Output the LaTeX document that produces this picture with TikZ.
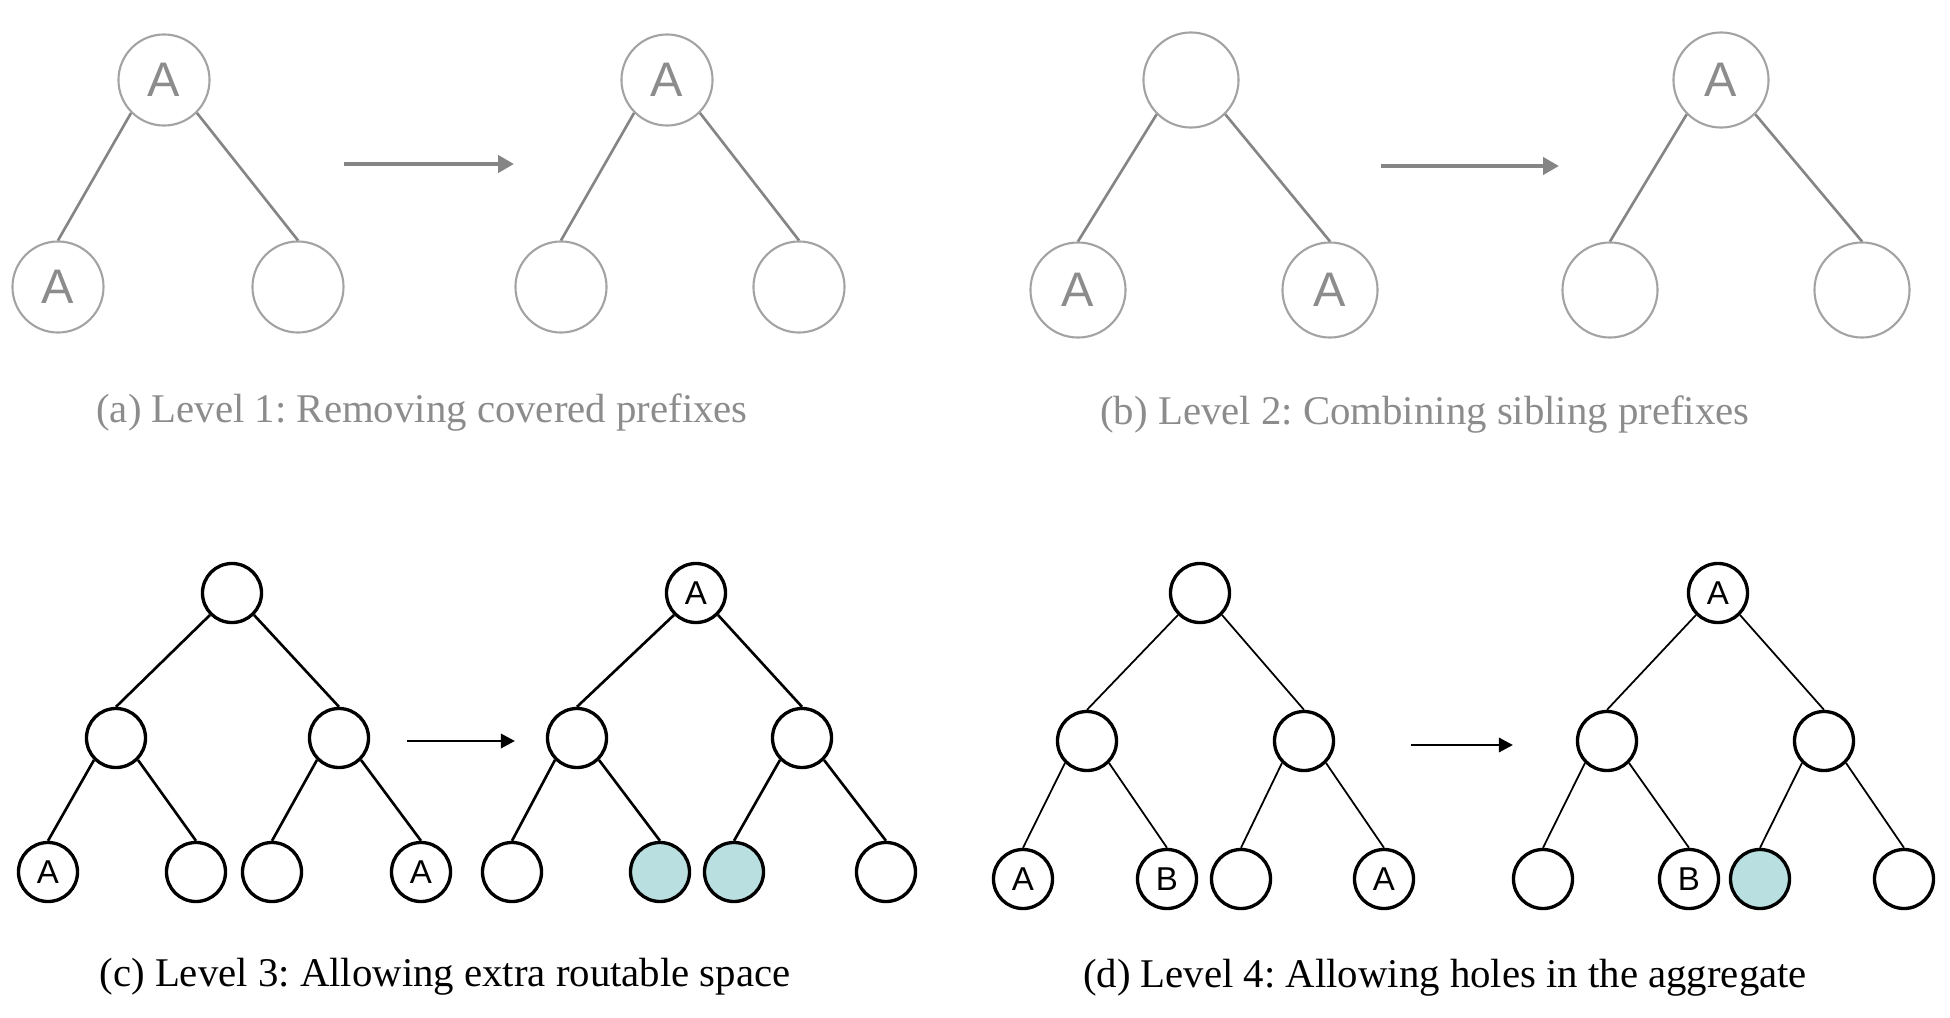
\documentclass[tikz,border=0pt]{standalone}
\usepackage{fontspec}
\setmainfont{Liberation Serif}
\setsansfont{Liberation Sans}
\usetikzlibrary{arrows.meta}
\definecolor{LineGray}{HTML}{858585}
\definecolor{RingGray}{HTML}{A3A3A3}
\definecolor{TextGray}{HTML}{8C8C8C}
\definecolor{HoleTeal}{HTML}{B9DFE1}
\frenchspacing

\tikzset{
  bignode/.style={circle, draw=RingGray, line width=0.6pt, minimum size=0.91cm, inner sep=0pt,
    text=TextGray, font=\sffamily\fontsize{13.8}{14}\selectfont},
  smallnode/.style={circle, draw=black, line width=0.95pt, minimum size=0.59cm, inner sep=0pt,
    font=\sffamily\fontsize{9.4}{10}\selectfont},
  holenode/.style={smallnode, fill=HoleTeal},
  grayedge/.style={draw=LineGray, line width=0.75pt},
  edgec/.style={draw=black, line width=0.75pt},
  edged/.style={draw=black, line width=0.5pt},
  grayarrow/.style={draw=LineGray, line width=1.1pt, -{Triangle[length=4.5pt, width=4.8pt]}},
  blackarrow/.style={draw=black, line width=0.85pt, -{Triangle[length=4pt, width=4pt]}},
  caption/.style={font=\fontsize{11.6}{12}\selectfont}
}

\begin{document}
\begin{tikzpicture}[x=0.01cm, y=-0.01cm]
  \useasboundingbox (0,0) rectangle (1950,1018);

  % (a) level 1
  \node[bignode] (a1) at (164,80) {A};
  \node[bignode] (a2) at (58,287) {A};
  \node[bignode] (a3) at (298,287) {};
  \node[bignode] (a4) at (667,80) {A};
  \node[bignode] (a5) at (561,287) {};
  \node[bignode] (a6) at (799,287) {};
  \foreach \p/\l/\r in {a1/a2/a3, a4/a5/a6} {
    \draw[grayedge] (\p.south west) -- (\l.north);
    \draw[grayedge] (\p.south east) -- (\r.north);
  }
  \coordinate (a-from) at (344,164);
  \coordinate (a-to) at (514,164);
  \draw[grayarrow] (a-from) -- (a-to);
  \node[caption, text=TextGray] (capa) at (422,413) {(a) Level 1: Removing covered prefixes};

  % (b) level 2
  \node[bignode, minimum size=0.95cm] (b1) at (1191,80) {};
  \node[bignode, minimum size=0.95cm] (b2) at (1078,290) {A};
  \node[bignode, minimum size=0.95cm] (b3) at (1330,290) {A};
  \node[bignode, minimum size=0.95cm] (b4) at (1721,80) {A};
  \node[bignode, minimum size=0.95cm] (b5) at (1610,290) {};
  \node[bignode, minimum size=0.95cm] (b6) at (1862,290) {};
  \foreach \p/\l/\r in {b1/b2/b3, b4/b5/b6} {
    \draw[grayedge] (\p.south west) -- (\l.north);
    \draw[grayedge] (\p.south east) -- (\r.north);
  }
  \coordinate (b-from) at (1381,166);
  \coordinate (b-to) at (1559,166);
  \draw[grayarrow] (b-from) -- (b-to);
  \node[caption, text=TextGray] (capb) at (1425,415) {(b) Level 2: Combining sibling prefixes};

  % (c) level 3
  \node[smallnode] (c1) at (232,593) {};
  \node[smallnode] (c2) at (116,738) {};
  \node[smallnode] (c3) at (339,738) {};
  \node[smallnode] (c4) at (48,872) {A};
  \node[smallnode] (c5) at (196,872) {};
  \node[smallnode] (c6) at (272,872) {};
  \node[smallnode] (c7) at (421,872) {A};
  \node[smallnode] (c8) at (696,593) {A};
  \node[smallnode] (c9) at (577,738) {};
  \node[smallnode] (c10) at (802,738) {};
  \node[smallnode] (c11) at (512,872) {};
  \node[holenode] (c12) at (660,872) {};
  \node[holenode] (c13) at (734,872) {};
  \node[smallnode] (c14) at (886,872) {};
  \foreach \p/\l/\r in {c1/c2/c3, c2/c4/c5, c3/c6/c7, c8/c9/c10, c9/c11/c12, c10/c13/c14} {
    \draw[edgec] (\p.south west) -- (\l.north);
    \draw[edgec] (\p.south east) -- (\r.north);
  }
  \coordinate (c-from) at (407,741);
  \coordinate (c-to) at (515,741);
  \draw[blackarrow] (c-from) -- (c-to);
  \node[caption] (capc) at (445,977) {(c) Level 3: Allowing extra routable space};

  % (d) level 4
  \node[smallnode] (d1) at (1200,593) {};
  \node[smallnode] (d2) at (1087,741) {};
  \node[smallnode] (d3) at (1304,741) {};
  \node[smallnode] (d4) at (1023,879) {A};
  \node[smallnode] (d5) at (1167,879) {B};
  \node[smallnode] (d6) at (1241,879) {};
  \node[smallnode] (d7) at (1384,879) {A};
  \node[smallnode] (d8) at (1718,593) {A};
  \node[smallnode] (d9) at (1607,741) {};
  \node[smallnode] (d10) at (1824,741) {};
  \node[smallnode] (d11) at (1543,879) {};
  \node[smallnode] (d12) at (1689,879) {B};
  \node[holenode] (d13) at (1760,879) {};
  \node[smallnode] (d14) at (1904,879) {};
  \foreach \p/\l/\r in {d1/d2/d3, d2/d4/d5, d3/d6/d7, d8/d9/d10, d9/d11/d12, d10/d13/d14} {
    \draw[edged] (\p.south west) -- (\l.north);
    \draw[edged] (\p.south east) -- (\r.north);
  }
  \coordinate (d-from) at (1411,745);
  \coordinate (d-to) at (1513,745);
  \draw[blackarrow] (d-from) -- (d-to);
  \node[caption] (capd) at (1445,978) {(d) Level 4: Allowing holes in the aggregate};
\end{tikzpicture}
\end{document}
